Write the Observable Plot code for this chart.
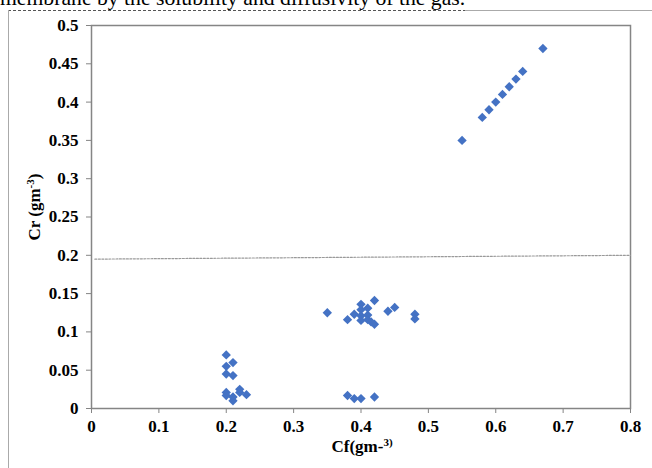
<!DOCTYPE html>
<html>
<head>
<meta charset="utf-8">
<script src="https://cdn.jsdelivr.net/npm/d3@7"></script>
<script src="https://cdn.jsdelivr.net/npm/@observablehq/plot@0.6"></script>
<style>
  html, body { margin: 0; padding: 0; background: #fff; }
  #wrap { position: relative; width: 652px; height: 468px; overflow: hidden; background: #fff; }
  #wrap > svg { position: absolute; left: 0; top: 0; }
</style>
</head>
<body>
<div id="wrap">
  <svg id="deco" width="652" height="468" font-family="Liberation Serif">
    <text x="0" y="5" font-size="21.7" fill="#000">membrane by the solubility and diffusivity of the gas.</text>
    <line x1="8" y1="10.5" x2="465" y2="10.5" stroke="#555" stroke-width="1" stroke-dasharray="3,2"></line>
    <line x1="465" y1="10.5" x2="652" y2="10.5" stroke="#aaa" stroke-width="1"></line>
    <line x1="8.5" y1="10" x2="8.5" y2="468" stroke="#aaa" stroke-width="1"></line>
    <text id="ylab" transform="translate(40,207) rotate(-90)" text-anchor="middle" font-size="17" font-weight="bold" fill="#000"></text>
    <text id="xlab" x="362" y="452" text-anchor="middle" font-size="17" font-weight="bold" fill="#000"></text>
  </svg>
</div>
<script>
// Series values
const upperCf = [0.55, 0.58, 0.59, 0.60, 0.61, 0.62, 0.63, 0.64, 0.67];
const upperCr = [0.35, 0.38, 0.39, 0.40, 0.41, 0.42, 0.43, 0.44, 0.47];

const midCf = [0.35, 0.38, 0.39, 0.40, 0.40, 0.40, 0.40, 0.41, 0.41, 0.41, 0.415, 0.42, 0.42, 0.44, 0.45, 0.48, 0.48];
const midCr = [0.125, 0.116, 0.123, 0.136, 0.129, 0.121, 0.115, 0.131, 0.122, 0.116, 0.113, 0.141, 0.110, 0.127, 0.132, 0.123, 0.117];

const lowLeftCf = [0.20, 0.21, 0.20, 0.20, 0.21, 0.20, 0.20, 0.21, 0.21, 0.22, 0.22, 0.23];
const lowLeftCr = [0.070, 0.060, 0.055, 0.045, 0.043, 0.021, 0.017, 0.015, 0.010, 0.025, 0.021, 0.018];

const lowMidCf = [0.38, 0.39, 0.40, 0.42];
const lowMidCr = [0.017, 0.013, 0.013, 0.015];

// Dotted reference line endpoints
const refCf = [0.005, 0.8];
const refCr = [0.195, 0.2];

// Tick labels and axis titles
const xTicks = [0, 0.1, 0.2, 0.3, 0.4, 0.5, 0.6, 0.7, 0.8];
const yTicks = [0, 0.05, 0.1, 0.15, 0.2, 0.25, 0.3, 0.35, 0.4, 0.45, 0.5];
const yTitle = ["Cr (gm", "-3", ")"];
const xTitle = ["Cf(gm-", "3)", ""];

const pts = [];
[[upperCf, upperCr], [midCf, midCr], [lowLeftCf, lowLeftCr], [lowMidCf, lowMidCr]].forEach(([xs, ys]) => {
  xs.forEach((x, i) => pts.push({x, y: ys[i]}));
});
const ref = refCf.map((x, i) => ({x, y: refCr[i]}));

const chart = Plot.plot({
  width: 652,
  height: 468,
  marginLeft: 91,
  marginRight: 22,
  marginTop: 25,
  marginBottom: 60,
  style: {fontFamily: "Liberation Serif", fontSize: "17px", fontWeight: "bold", color: "#000", background: "transparent"},
  x: {domain: [0, 0.8], ticks: xTicks, tickFormat: d => String(d), tickSize: 5, tickPadding: 6, label: null},
  y: {domain: [0, 0.5], ticks: yTicks, tickFormat: d => String(d), tickSize: 5, tickPadding: 8, label: null},
  marks: [
    Plot.frame({stroke: "#858585", strokeWidth: 1.5}),
    Plot.line(ref, {x: "x", y: "y", stroke: "#9a9a9a", strokeWidth: 1.2, strokeDasharray: "2,1.5"}),
    Plot.dot(pts, {x: "x", y: "y", symbol: "diamond2", r: 4.2, fill: "#4472C4", stroke: "none"})
  ]
});
chart.querySelectorAll("[aria-label='x-axis tick'], [aria-label='y-axis tick']").forEach(g => g.setAttribute("stroke", "#858585"));
document.getElementById("wrap").appendChild(chart);

function fillTitle(el, parts) {
  const ns = "http://www.w3.org/2000/svg";
  const a = document.createElementNS(ns, "tspan"); a.textContent = parts[0]; el.appendChild(a);
  const b = document.createElementNS(ns, "tspan"); b.textContent = parts[1];
  b.setAttribute("font-size", "11"); b.setAttribute("dy", "-6"); el.appendChild(b);
  if (parts[2]) {
    const c = document.createElementNS(ns, "tspan"); c.textContent = parts[2];
    c.setAttribute("dy", "6"); el.appendChild(c);
  }
}
fillTitle(document.getElementById("ylab"), yTitle);
fillTitle(document.getElementById("xlab"), xTitle);
</script>
</body>
</html>
